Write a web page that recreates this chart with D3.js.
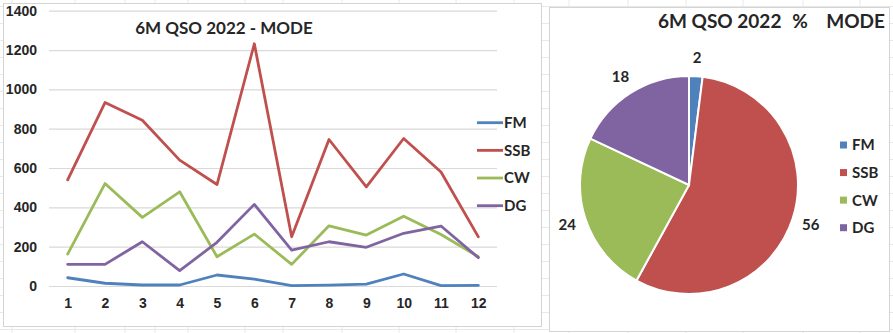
<!DOCTYPE html>
<html><head><meta charset="utf-8">
<script src="https://cdn.jsdelivr.net/npm/d3@7"></script>
<style>
html,body{margin:0;padding:0;background:#fff;}
svg{display:block;}
</style></head>
<body>
<svg id="c" width="893" height="333"></svg>
<script>
const months = [1,2,3,4,5,6,7,8,9,10,11,12];
const seriesNames = ["FM","SSB","CW","DG"];
const colors = ["#4F81BD","#C0504D","#9BBB59","#8064A2"];
const fm  = [42,14,5,5,56,35,2,4,10,61,2,3];
const ssb = [540,933,843,640,516,1232,250,745,504,750,580,250];
const cw  = [162,521,349,479,149,264,110,306,259,355,262,149];
const dg  = [110,110,225,78,222,415,183,225,197,268,305,144];
const yTicks = [0,200,400,600,800,1000,1200,1400];
const pieValues = [2,56,24,18];
const lineTitle = "6M QSO 2022 - MODE";
const pieTitleParts = ["6M QSO 2022","%","MODE"];

const svg = d3.select("#c");
const boldSans = "'Liberation Sans', Arial, sans-serif";
const titleFont = "Lato, 'Open Sans', sans-serif";

// spreadsheet background grid
const bg = svg.append("g");
const vCols = [12,75,125,155,188,245,283,342,399,456,514,569,628,686,743,803,860];
vCols.forEach(x => bg.append("line").attr("x1",x).attr("x2",x).attr("y1",0).attr("y2",333)
  .attr("stroke","#e8e8e8").attr("stroke-width",1));
d3.range(6,333,17).forEach(y => bg.append("line").attr("x1",0).attr("x2",893).attr("y1",y+0.5).attr("y2",y+0.5)
  .attr("stroke","#e8e8e8").attr("stroke-width",1));

// panels
svg.append("rect").attr("x",3.5).attr("y",3.5).attr("width",538).attr("height",323)
  .attr("fill","#fff").attr("stroke","#d4d4d4");
svg.append("rect").attr("x",549.5).attr("y",7.5).attr("width",340).attr("height",324)
  .attr("fill","#fff").attr("stroke","#d4d4d4");

// ---- line chart
const x = d3.scalePoint().domain(months).range([49,497]).padding(0.5);
const y = d3.scaleLinear().domain([0,1400]).range([286,10.7]);

const yAxis = d3.axisLeft(y).tickValues(yTicks).tickFormat(d3.format("d")).tickSize(-448).tickPadding(12);
const gy = svg.append("g").attr("transform","translate(49,0)").call(yAxis);
gy.select(".domain").remove();
gy.selectAll(".tick line").attr("stroke","#d9d9d9").attr("stroke-width",1.2);
gy.selectAll(".tick text").attr("font-family",boldSans).attr("font-weight","bold")
  .attr("font-size",14).attr("fill","#262626");

const xAxis = d3.axisBottom(x).tickSize(0).tickPadding(12);
const gx = svg.append("g").attr("transform","translate(0,286)").call(xAxis);
gx.select(".domain").remove();
gx.selectAll(".tick text").attr("font-family",boldSans).attr("font-weight","bold")
  .attr("font-size",14).attr("fill","#262626");

const allSeries = [fm,ssb,cw,dg];
const line = d3.line().x((d,i)=>x(months[i])).y(d=>y(d));
allSeries.forEach((s,k)=>{
  svg.append("path").datum(s).attr("d",line).attr("fill","none")
    .attr("stroke",colors[k]).attr("stroke-width",2.8).attr("stroke-linejoin","round").attr("stroke-linecap","round");
});

svg.append("text").attr("x",224).attr("y",34).attr("text-anchor","middle")
  .attr("font-family",titleFont).attr("font-weight","bold").attr("font-size",17)
  .attr("fill","#262626").text(lineTitle);

// legend left
const legY = d3.scalePoint().domain(seriesNames).range([122.7,205.7]);
seriesNames.forEach((n,k)=>{
  svg.append("line").attr("x1",477).attr("x2",503).attr("y1",legY(n)).attr("y2",legY(n))
    .attr("stroke",colors[k]).attr("stroke-width",2.8);
  svg.append("text").attr("x",504).attr("y",legY(n)).attr("dy","0.36em")
    .attr("font-family",titleFont).attr("font-weight","bold").attr("font-size",15)
    .attr("fill","#262626").text(n);
});

// ---- pie
const cx = 689, cy = 185, r = 109;
const pie = d3.pie().sort(null).value(d=>d);
const arcs = pie(pieValues);
const arc = d3.arc().innerRadius(0).outerRadius(r);
const labelArc = d3.arc().innerRadius(128).outerRadius(128);
const gp = svg.append("g").attr("transform",`translate(${cx},${cy})`);
gp.selectAll("path").data(arcs).join("path").attr("d",arc)
  .attr("fill",(d,i)=>colors[i]).attr("stroke","#fff").attr("stroke-width",2);
gp.selectAll("text").data(arcs).join("text")
  .attr("transform",d=>`translate(${labelArc.centroid(d)})`)
  .attr("text-anchor","middle").attr("dy","0.36em")
  .attr("font-family",titleFont).attr("font-weight","bold").attr("font-size",15)
  .attr("fill","#262626").text(d=>d.data);

const tp = svg.append("g").attr("font-family",titleFont).attr("font-weight","bold")
  .attr("font-size",19).attr("fill","#262626");
tp.append("text").attr("x",658).attr("y",28).attr("text-anchor","start").text(pieTitleParts[0]);
tp.append("text").attr("x",800).attr("y",28).attr("text-anchor","middle").text(pieTitleParts[1]);
tp.append("text").attr("x",885).attr("y",28).attr("text-anchor","end").text(pieTitleParts[2]);

// legend right
const legY2 = d3.scalePoint().domain(seriesNames).range([145,227.7]);
seriesNames.forEach((n,k)=>{
  svg.append("rect").attr("x",840).attr("y",legY2(n)-3.5).attr("width",7).attr("height",7)
    .attr("fill",colors[k]);
  svg.append("text").attr("x",852).attr("y",legY2(n)).attr("dy","0.36em")
    .attr("font-family",titleFont).attr("font-weight","bold").attr("font-size",15)
    .attr("fill","#262626").text(n);
});
</script>
</body></html>
